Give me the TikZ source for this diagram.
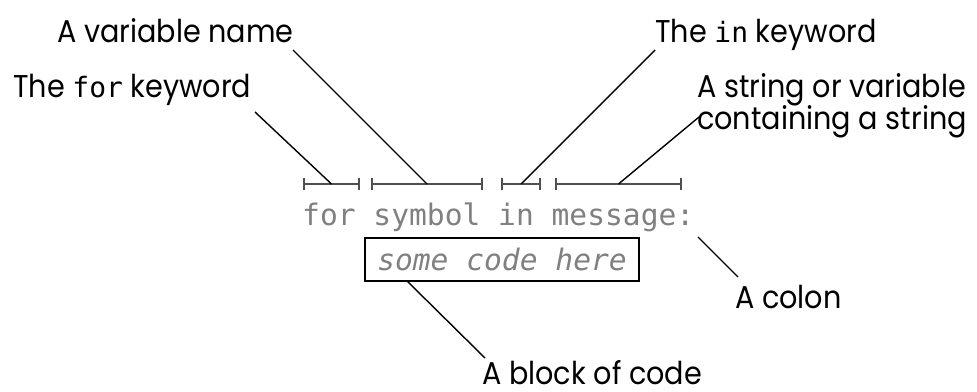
\documentclass[tikz,border=0pt]{standalone}
\usepackage{fontspec}
\setmainfont[FakeStretch=0.91]{Poppins}
\newfontfamily\codefont{DejaVu Sans Mono}
\newcommand{\kw}[1]{{\codefont\fontsize{28}{27}\selectfont #1}}
\definecolor{codegray}{HTML}{808080}
\definecolor{barcol}{HTML}{505050}
\begin{document}
\begin{tikzpicture}[x=1pt,y=-1pt,
  lbl/.style={inner sep=0pt, anchor=base west, font=\fontsize{31.5}{27}\selectfont, text=black},
  code/.style={inner sep=0pt, anchor=base west, font=\codefont\fontsize{29.6}{30}\selectfont, text=codegray},
  leader/.style={draw=black, line width=1.4pt},
  bar/.style={draw=barcol, line width=1.8pt},
  tick/.style={draw=barcol, line width=1.6pt}]
\useasboundingbox (0,0) rectangle (977,391);

% labels
\node[lbl] (lvar) at (57,42) {A variable name};
\node[lbl] (lfor) at (13,97) {The \kw{for} keyword};
\node[lbl] (lin) at (655,42) {The \kw{in} keyword};
\node[lbl] (lstr) at (697,97) {A string or variable};
\node[lbl] (lstr2) at (697,129) {containing a string};
\node[lbl] (lcolon) at (735,308) {A colon};
\node[lbl] (lblock) at (482,384) {A block of code};

% code
\node[code] (codeline) at (302,225) {for symbol in message:};
\node[draw=black, line width=1.6pt, minimum width=274pt, minimum height=43pt, inner sep=0pt,
      font=\codefont\itshape\fontsize{29.6}{30}\selectfont, text=codegray] (block) at (502,259.5) {some code here};

% brackets
\foreach \n/\a/\b in {b1/304/359, b2/372/482, b3/502/540, b4/556/681}{
  \coordinate (\n l) at (\a,184);
  \coordinate (\n r) at (\b,184);
  \coordinate (\n m) at ({(\a+\b)/2},184);
  \draw[bar] (\n l) -- (\n r);
  \draw[tick] ([yshift=-6pt]\n l) -- ([yshift=6pt]\n l);
  \draw[tick] ([yshift=-6pt]\n r) -- ([yshift=6pt]\n r);
}

% leader ends
\coordinate (efor) at (255,112);
\coordinate (evar) at (293,50);
\coordinate (ein) at (655,50);
\coordinate (estr) at (699,117);
\coordinate (colA) at (698,237);
\coordinate (colB) at (738,277);
\coordinate (blkA) at (407,281);
\coordinate (blkB) at (485,358);

\draw[leader] (efor) -- (b1m);
\draw[leader] (evar) -- (b2m);
\draw[leader] (ein) -- (b3m);
\draw[leader] (estr) -- (b4m);
\draw[leader] (colA) -- (colB);
\draw[leader] (blkA) -- (blkB);
\end{tikzpicture}
\end{document}
